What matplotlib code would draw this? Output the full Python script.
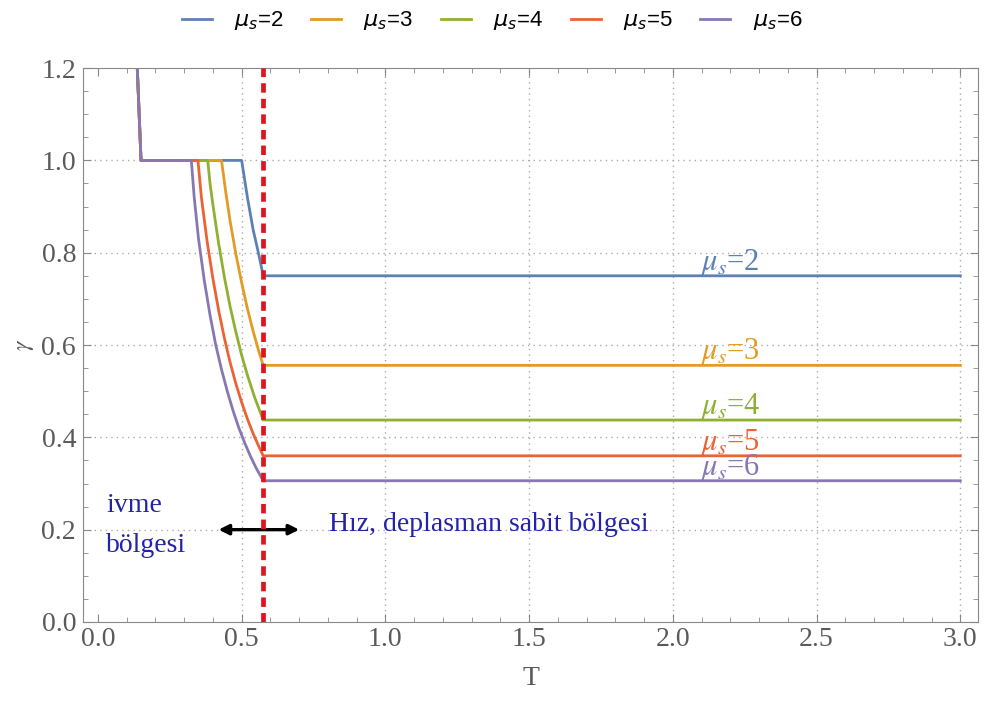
import matplotlib
matplotlib.use('Agg')
import matplotlib.pyplot as plt
from matplotlib.ticker import MultipleLocator

# shared steep part on the left (clipped at 1.2 by the axes)
t_left = [0.135, 0.15]
g_left = [1.23, 1.0]
t_end = 3.0

# descending part of each curve, ending at Tc = 0.575
mu_labels = ['2', '3', '4', '5', '6']
t_mu2 = [0.50, 0.52, 0.54, 0.56, 0.575]
g_mu2 = [1.0, 0.92, 0.85, 0.795, 0.75]
t_mu3 = [0.43, 0.445, 0.46, 0.48, 0.50, 0.52, 0.54, 0.56, 0.575]
g_mu3 = [1.0, 0.93, 0.868, 0.797, 0.735, 0.679, 0.630, 0.586, 0.556]
t_mu4 = [0.382, 0.39, 0.40, 0.42, 0.44, 0.46, 0.48, 0.50, 0.52, 0.545, 0.575]
g_mu4 = [1.0, 0.95, 0.904, 0.82, 0.747, 0.683, 0.628, 0.578, 0.535, 0.487, 0.4375]
t_mu5 = [0.348, 0.36, 0.38, 0.40, 0.42, 0.44, 0.46, 0.48, 0.50, 0.52, 0.54, 0.56, 0.575]
g_mu5 = [1.0, 0.92, 0.824, 0.744, 0.675, 0.615, 0.562, 0.516, 0.476, 0.44, 0.408, 0.38, 0.36]
t_mu6 = [0.325, 0.335, 0.35, 0.37, 0.39, 0.41, 0.43, 0.45, 0.47, 0.49, 0.51, 0.53, 0.55, 0.575]
g_mu6 = [1.0, 0.92, 0.83, 0.74, 0.665, 0.60, 0.547, 0.50, 0.458, 0.421, 0.389, 0.36, 0.334, 0.306]
t_c = 0.575

colors = ['#5E81B5', '#E19C24', '#8FB032', '#EB6235', '#8778B3']
curves = [(t_mu2, g_mu2), (t_mu3, g_mu3), (t_mu4, g_mu4), (t_mu5, g_mu5), (t_mu6, g_mu6)]

fig = plt.figure(figsize=(9.9, 7.02), dpi=100)
ax = fig.add_axes([0.0838, 0.114, 0.9042, 0.789])

serif = 'Liberation Serif'
lines = []
for i, (ts, gs) in enumerate(curves):
    xs = t_left + ts + [t_end]
    ys = g_left + gs + [gs[-1]]
    ln, = ax.plot(xs, ys, color=colors[i], linewidth=2.0, solid_joinstyle='round',
                  label=r'$\mu_s$=' + mu_labels[i])
    lines.append(ln)
    ax.text(2.095, gs[-1] - 0.004, r'$\mu_s$=' + mu_labels[i], color=colors[i],
            fontsize=22, family=serif, math_fontfamily='stix', va='bottom', ha='left')

ax.axvline(t_c, color='#E0141E', linewidth=3.4, linestyle=(0, (2.0, 1.3)), zorder=5)

ax.set_xlim(-0.052, 3.062)
ax.set_ylim(0, 1.2)
ax.xaxis.set_major_locator(MultipleLocator(0.5))
ax.xaxis.set_minor_locator(MultipleLocator(0.1))
ax.yaxis.set_major_locator(MultipleLocator(0.2))
ax.yaxis.set_minor_locator(MultipleLocator(0.05))
ax.tick_params(which='both', direction='in', top=True, right=True, colors='#888888',
               labelcolor='#5a5a5a', labelsize=20)
ax.tick_params(which='major', length=6)
ax.tick_params(which='minor', length=3.5)
ax.tick_params(axis='y', pad=5)
ax.set_xticklabels(['%.1f' % v for v in ax.get_xticks()], family=serif)
ax.set_yticklabels(['%.1f' % v for v in ax.get_yticks()], family=serif)
for s in ax.spines.values():
    s.set_color('#888888')

for v in [0.5, 1.0, 1.5, 2.0, 2.5, 3.0]:
    ax.axvline(v, color='#aaaaaa', linewidth=1.0, linestyle=(0, (1, 3)), zorder=0)
for v in [0.2, 0.4, 0.6, 0.8, 1.0]:
    ax.axhline(v, color='#aaaaaa', linewidth=1.0, linestyle=(0, (1, 3)), zorder=0)

ax.set_xlabel('T', family=serif, fontsize=20, color='#5a5a5a', labelpad=10)
ax.set_ylabel(r'$\gamma$', fontsize=17, color='#5a5a5a', math_fontfamily='stix', labelpad=4)

ax.annotate('', xy=(0.41, 0.2), xytext=(0.71, 0.2),
            arrowprops=dict(arrowstyle='<|-|>', color='black', lw=2.4, mutation_scale=15))
ax.text(0.128, 0.253, 'ivme', color='#2323A8', fontsize=20, family=serif, ha='center', va='center')
ax.text(0.167, 0.165, 'bölgesi', color='#2323A8', fontsize=20, family=serif, ha='center', va='center')
ax.text(0.805, 0.212, 'Hız, deplasman sabit bölgesi', color='#2323A8', fontsize=20, family=serif,
        ha='left', va='center')

fig.legend(handles=lines, loc='upper center', bbox_to_anchor=(0.497, 1.015), ncol=5, frameon=False,
           prop={'family': 'Liberation Sans', 'size': 16}, handlelength=1.35, columnspacing=1.25,
           handletextpad=1.0)

fig.savefig('out.png', dpi=100)
